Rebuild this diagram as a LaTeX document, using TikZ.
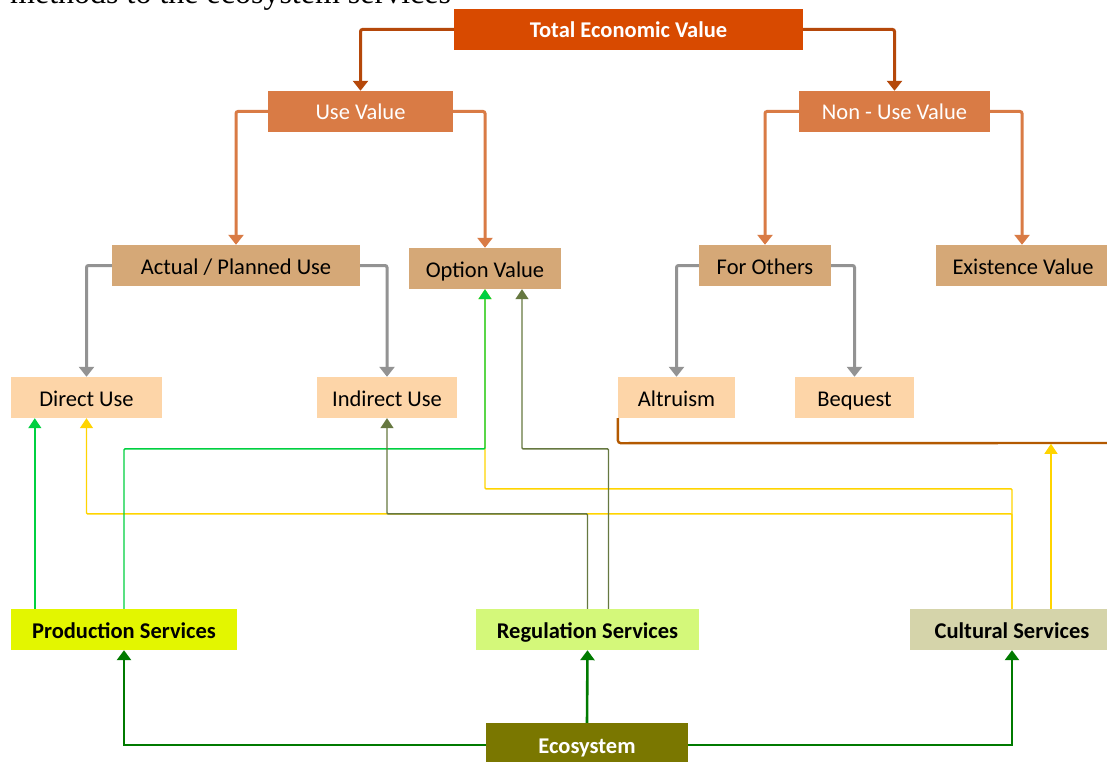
\documentclass[tikz,border=0pt]{standalone}
\usepackage{fontspec}
\setmainfont{Carlito}
\newfontfamily\capfont{Liberation Serif}
\usetikzlibrary{arrows.meta,calc}

\definecolor{tevfill}{RGB}{216,74,0}
\definecolor{usefill}{RGB}{217,123,69}
\definecolor{tanfill}{RGB}{213,168,119}
\definecolor{peachfill}{RGB}{253,213,168}
\definecolor{prodfill}{RGB}{227,246,0}
\definecolor{regfill}{RGB}{212,248,122}
\definecolor{cultfill}{RGB}{213,212,170}
\definecolor{ecofill}{RGB}{122,119,0}
\definecolor{tevline}{RGB}{181,72,10}
\definecolor{greyline}{RGB}{147,147,147}
\definecolor{brightgreen}{RGB}{0,208,64}
\definecolor{oliveline}{RGB}{102,120,64}
\definecolor{yellowline}{RGB}{255,212,0}
\definecolor{bracketline}{RGB}{179,89,0}
\definecolor{darkgreen}{RGB}{0,122,0}

\tikzset{
  box/.style={draw=none, minimum height=41pt, inner sep=0pt, text height=17pt, text depth=0pt,
    font=\fontsize{22.5}{26}\selectfont},
  boldbox/.style={box, font=\fontsize{22.5}{26}\selectfont\bfseries},
  thick arrow/.style={line width=3pt, rounded corners=2pt, -{Triangle[width=15pt,length=10pt]}},
  thin arrow/.style={line width=1.4pt, rounded corners=1pt, -{Triangle[width=13pt,length=10pt]}},
}

\begin{document}
\begin{tikzpicture}[x=1pt,y=-1pt]
\useasboundingbox (0,0) rectangle (1107,762);
\fill[white] (0,0) rectangle (1107,762);

% caption line running off the top edge
\node[anchor=base west, inner sep=0pt, font=\capfont\fontsize{32}{35}\selectfont] (caption) at (10,3.5) {methods to the ecosystem services};

% value hierarchy
\node[boldbox, fill=tevfill, text=white, minimum width=349pt] (tev) at (628.5,29.5) {Total Economic Value};
\node[box, fill=usefill, text=white, minimum width=185pt] (use) at (360.5,111.5) {Use Value};
\node[box, fill=usefill, text=white, minimum width=191pt] (nonuse) at (894.5,111.5) {Non - Use Value};
\node[box, fill=tanfill, minimum width=248pt] (actual) at (236,265.5) {Actual / Planned Use};
\node[box, fill=tanfill, minimum width=152pt] (option) at (485,268.5) {Option Value};
\node[box, fill=tanfill, minimum width=132pt] (others) at (765,265.5) {For Others};
\node[box, fill=tanfill, minimum width=174pt] (exist) at (1023,265.5) {Existence Value};
\node[box, fill=peachfill, minimum width=151pt] (direct) at (86.5,397.5) {Direct Use};
\node[box, fill=peachfill, minimum width=140pt] (indirect) at (387,397.5) {Indirect Use};
\node[box, fill=peachfill, minimum width=117pt] (altru) at (676.5,397.5) {Altruism};
\node[box, fill=peachfill, minimum width=119pt] (bequest) at (854.5,397.5) {Bequest};

% ecosystem services
\node[boldbox, fill=prodfill, minimum width=226pt] (prod) at (124,629.5) {Production Services};
\node[boldbox, fill=regfill, minimum width=223pt] (reg) at (587.5,629.5) {Regulation Services};
\node[boldbox, fill=cultfill, minimum width=204pt] (cult) at (1012,629.5) {Cultural Services};
\node[boldbox, fill=ecofill, text=white, minimum width=202pt, minimum height=44pt] (eco) at (587,745) {Ecosystem};

% top-level split
\draw[thick arrow, tevline] (tev.west) -| (use.north);
\draw[thick arrow, tevline] (tev.east) -| (nonuse.north);
\draw[thick arrow, usefill] (use.west) -| (actual.north);
\draw[thick arrow, usefill] (use.east) -| (option.north);
\draw[thick arrow, usefill] (nonuse.west) -| (others.north);
\draw[thick arrow, usefill] (nonuse.east) -| ([xshift=-1pt]exist.north);
\draw[thick arrow, greyline] (actual.west) -| (direct.north);
\draw[thick arrow, greyline] (actual.east) -| (indirect.north);
\draw[thick arrow, greyline] (others.west) -| (altru.north);
\draw[thick arrow, greyline] (others.east) -| (bequest.north);

% bracket under the non-use values
\coordinate (bracketend) at (1110,443);
\draw[bracketline, line width=2.4pt, rounded corners=3pt] (altru.south west) -- ++(0,25) -- (bracketend);

% services feeding the values
\draw[thin arrow, yellowline] (cult.north) -- ++(0,-120) -| (option.south);
\draw[thin arrow, yellowline] (cult.north) -- ++(0,-95) -| (direct.south);
\draw[thin arrow, yellowline] ([xshift=39pt]cult.north) -- ++(0,-165);
\draw[thin arrow, brightgreen] ([xshift=24pt]prod.north west) -- ([xshift=24pt]direct.south west);
\draw[thin arrow, brightgreen] (prod.north) -- ++(0,-160) -| (option.south);
\draw[thin arrow, oliveline] (reg.north) -- ++(0,-95) -| (indirect.south);
\draw[thin arrow, oliveline] ([xshift=21pt]reg.north) -- ++(0,-160) -| ([xshift=37pt]option.south);

% ecosystem to services
\draw[darkgreen, line width=2.6pt, -{Triangle[width=14pt,length=10pt]}] (eco.west) -| (prod.south);
\draw[darkgreen, line width=2.6pt, -{Triangle[width=14pt,length=10pt]}] (eco.north) -- (reg.south);
\draw[darkgreen, line width=2.6pt, -{Triangle[width=14pt,length=10pt]}] (eco.east) -| (cult.south);
\end{tikzpicture}
\end{document}
